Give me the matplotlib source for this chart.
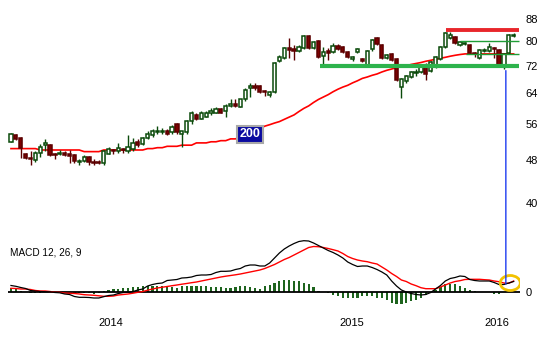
import matplotlib
matplotlib.use("Agg")
import matplotlib.pyplot as plt
from matplotlib.patches import Ellipse, ConnectionPatch
from matplotlib.ticker import NullLocator

plt.rcParams['font.family'] = ['Liberation Sans', 'DejaVu Sans']

# weekly candles
opens = [52.0, 53.4, 52.9, 49.4, 48.4, 48.0, 49.6, 51.2, 51.2, 49.2,
         49.2, 49.6, 49.2, 49.0, 47.6, 47.8, 48.6, 47.6, 47.6, 47.4,
         49.4, 50.1, 49.9, 50.3, 49.9, 50.3, 52.0, 51.4, 52.9, 53.4,
         54.1, 54.1, 54.3, 54.1, 56.0, 53.8, 54.1, 56.9, 58.2, 57.4,
         57.9, 58.7, 58.9, 59.7, 59.2, 60.7, 61.2, 60.4, 62.3, 65.3,
         66.1, 66.1, 64.5, 63.4, 64.2, 73.5, 74.4, 77.7, 77.3, 76.7,
         77.7, 81.8, 77.7, 80.0, 75.0, 76.7, 76.4, 78.3, 78.0, 76.4,
         74.1, 76.4, 74.1, 72.3, 77.3, 81.1, 78.7, 74.4, 75.7, 74.1,
         65.6, 67.3, 68.7, 69.9, 70.2, 72.0, 70.5, 71.7, 74.1, 78.0,
         81.1, 81.4, 78.7, 79.0, 78.7, 76.0, 74.4, 76.7, 76.7, 77.7,
         77.0, 72.3, 76.0, 81.8]
closes = [53.6, 52.5, 50.5, 48.4, 48.2, 49.6, 50.9, 51.6, 49.0, 49.0,
          49.6, 49.0, 48.8, 47.8, 47.8, 48.6, 47.6, 47.4, 47.4, 49.9,
          50.3, 49.9, 50.5, 50.1, 50.9, 51.6, 51.2, 52.7, 53.8, 54.3,
          54.5, 54.5, 53.8, 55.3, 54.1, 54.3, 56.7, 58.7, 57.4, 58.7,
          58.9, 59.4, 59.9, 58.9, 60.7, 61.2, 60.7, 62.3, 65.0, 65.9,
          65.3, 64.2, 64.2, 64.2, 72.9, 74.8, 77.7, 77.0, 76.8, 78.0,
          81.8, 77.7, 79.7, 74.8, 76.4, 76.0, 78.3, 77.3, 76.4, 74.8,
          74.8, 77.3, 73.5, 76.7, 80.4, 79.0, 74.4, 75.4, 73.8, 67.8,
          68.1, 69.0, 70.2, 70.2, 71.7, 69.6, 73.2, 74.8, 78.0, 82.9,
          82.1, 79.3, 79.7, 79.3, 76.0, 75.7, 77.0, 77.0, 78.0, 77.3,
          72.3, 75.7, 82.1, 82.1]
highs = [53.9, 53.6, 53.1, 49.6, 49.9, 49.9, 51.4, 52.5, 51.4, 49.6,
         50.1, 49.9, 50.1, 49.2, 48.2, 49.0, 48.8, 48.2, 48.0, 50.1,
         50.7, 50.3, 51.6, 50.5, 53.4, 52.7, 52.5, 53.1, 54.3, 54.8,
         55.5, 55.0, 54.8, 55.8, 56.2, 54.5, 57.0, 59.2, 58.7, 59.2,
         59.4, 60.0, 60.4, 60.0, 61.0, 62.5, 62.3, 62.5, 65.3, 66.8,
         67.0, 66.3, 65.0, 64.5, 73.2, 75.4, 78.0, 81.1, 78.7, 78.7,
         82.1, 82.1, 80.0, 80.4, 78.0, 77.7, 79.3, 79.0, 78.3, 76.7,
         75.1, 77.7, 74.4, 77.0, 80.7, 81.4, 79.0, 75.8, 76.0, 74.4,
         68.4, 69.3, 70.5, 71.1, 72.0, 72.9, 73.5, 75.1, 78.3, 83.2,
         83.2, 81.8, 80.0, 79.7, 79.0, 76.4, 77.3, 77.7, 79.3, 78.0,
         77.3, 76.0, 82.5, 82.9]
lows = [51.9, 52.3, 48.4, 48.2, 47.0, 47.6, 48.6, 49.9, 48.8, 48.2,
        49.0, 48.8, 47.4, 47.4, 47.0, 47.6, 47.0, 47.0, 47.2, 47.0,
        49.2, 49.4, 49.6, 49.6, 49.6, 49.9, 50.9, 51.2, 52.5, 53.1,
        53.8, 53.6, 53.4, 53.8, 53.8, 50.9, 53.8, 56.0, 57.0, 57.2,
        57.7, 58.4, 58.7, 58.7, 57.9, 60.4, 60.4, 60.2, 62.0, 63.0,
        64.8, 64.0, 63.2, 63.0, 64.0, 73.2, 74.1, 74.4, 73.8, 76.4,
        77.3, 77.3, 77.3, 74.4, 72.3, 73.8, 76.0, 77.0, 76.0, 74.4,
        73.5, 76.0, 73.2, 72.0, 76.7, 78.7, 74.1, 74.1, 73.5, 67.5,
        62.8, 66.8, 68.4, 69.0, 69.9, 67.8, 70.2, 71.4, 73.8, 77.7,
        80.7, 79.0, 78.3, 78.7, 75.7, 74.8, 74.1, 76.4, 76.4, 74.4,
        72.0, 71.1, 75.7, 81.4]

# 200-day moving average
ma200 = [50.45] * 6 + [50.15] * 9 + [49.8] * 4 + [50.15] * 9 + \
        [50.45, 50.45, 50.65, 50.65, 50.95, 50.95, 50.95, 51.2, 51.2, 51.2,
         51.7, 51.7, 51.7, 51.95, 51.95, 52.2, 52.2, 52.6, 52.6, 53.05,
         53.6, 54.05, 54.5, 55.0, 55.55, 55.9, 56.3, 56.65, 57.2, 57.75,
         58.3, 59.15, 59.95, 60.6, 61.5, 62.3, 62.95, 63.6, 64.4, 65.1,
         65.7, 66.2, 66.9, 67.5, 68.2, 68.6, 69.1, 69.5, 70.1, 70.6,
         71.0, 71.4, 71.7, 72.0, 72.4, 72.7, 73.0, 73.4, 73.7, 74.05,
         74.35, 74.65, 75.0, 75.3, 75.55] + [75.75] * 11

# MACD 12, 26, 9
macd = [6.5, 5.7, 4.5, 3.5, 1.5, 1.0, 0.5, 0.3, 0.2, -0.5,
        -0.8, -2.0, -2.5, -4.5, -5.3, -5.3, -5.5, -6.0, -6.0, -4.7,
        -3.5, -3.0, -1.5, -0.5, -0.3, 0.5, 2.0, 3.0, 6.0, 7.5,
        8.5, 9.0, 11.5, 12.0, 12.5, 14.0, 14.3, 15.0, 16.5, 17.0,
        17.0, 17.5, 19.5, 20.7, 20.7, 21.0, 22.5, 23.5, 26.0, 27.0,
        27.0, 26.0, 26.0, 29.0, 34.0, 39.0, 43.0, 46.0, 48.5, 50.5,
        51.3, 51.0, 49.0, 46.5, 44.0, 41.5, 39.5, 37.0, 34.0, 30.0,
        27.5, 25.5, 26.0, 26.0, 24.5, 22.5, 20.0, 17.0, 11.0, 6.0,
        2.0, 0.0, -1.5, -2.5, -3.0, -2.5, -0.5, 3.0, 6.5, 11.0,
        13.5, 14.5, 16.0, 15.5, 12.5, 11.5, 11.0, 11.0, 11.0, 9.5,
        7.5, 7.5, 9.0, 10.5]
signal = [3.7, 3.5, 3.0, 3.0, 2.5, 1.5, 1.0, 1.0, 0.5, -0.3,
          -0.3, -1.0, -1.3, -1.5, -2.0, -2.7, -3.0, -3.3, -3.8, -4.3,
          -4.3, -4.0, -3.0, -2.5, -2.0, -1.2, -0.3, 0.5, 1.8, 3.0,
          4.0, 4.8, 5.5, 6.3, 7.0, 7.8, 8.5, 9.3, 10.0, 11.0,
          12.0, 13.0, 14.0, 15.0, 15.8, 16.5, 17.2, 18.0, 19.0, 20.0,
          21.0, 22.0, 23.5, 25.5, 27.5, 30.0, 32.5, 34.5, 37.0, 39.5,
          42.0, 44.5, 45.5, 45.3, 44.5, 43.5, 42.3, 41.0, 38.5, 35.5,
          33.5, 32.0, 31.0, 30.3, 29.0, 28.0, 25.0, 22.0, 18.5, 15.5,
          12.0, 10.5, 8.0, 6.3, 4.3, 3.3, 3.3, 3.3, 5.0, 7.0,
          9.0, 10.5, 11.3, 12.5, 12.7, 12.7, 12.7, 12.3, 12.0, 11.0,
          10.3, 9.0, 8.7, 11.0]
hist = [4.0, 3.0, 1.0, 0.3, -1.0, -1.0, -1.0, -0.3, -0.3, -0.3,
        -0.3, -0.3, -0.3, -0.5, -1.0, -1.3, -1.3, -1.7, -1.3, 1.3,
        2.3, 3.0, 3.3, 4.0, 4.0, 4.7, 4.7, 6.3, 6.3, 6.3,
        5.7, 5.7, 5.7, 4.7, 3.7, 5.7, 5.7, 5.7, 5.7, 5.7,
        5.7, 5.0, 5.0, 4.7, 4.0, 3.7, 4.7, 5.7, 5.7, 5.0,
        4.0, 3.3, 5.7, 7.0, 9.0, 11.3, 12.3, 12.3, 11.3, 11.3,
        9.0, 7.7, 5.0, 1.3, 0.0, -1.0, -2.7, -3.7, -6.0, -6.0,
        -6.0, -6.0, -4.3, -3.7, -4.3, -6.0, -6.0, -7.7, -11.0, -11.7,
        -11.7, -11.0, -9.3, -7.7, -6.0, -2.7, 0.0, 2.3, 5.0, 7.7,
        7.7, 7.7, 6.3, 4.0, 2.3, 0.7, 0.0, 0.0, 0.0, -1.5,
        -1.5, 0.0, 0.0, 0.0]

price_ticks = [40, 48, 56, 64, 72, 80, 88]
years = ['2014', '2015', '2016']
year_pos = [20.5, 69.9, 99.6]

# drawn levels: (price, start, end)
resistance = (83.8, 89.1, 104.1)
support = (71.9, 63.3, 104.1)
channel = [(80.0, 92.0, 104.1), (75.7, 93.2, 104.1)]
marker_week = 101.4
marker_top = 70.5
marker_macd = 8.0

n = len(closes)
idx = list(range(n))
UP_EDGE, DOWN_FACE, DOWN_EDGE = '#0a4a0a', '#7d0000', '#5c0000'

fig = plt.figure(figsize=(5.4, 3.6), dpi=100)
ax = fig.add_axes([0, 120 / 360, 520 / 540, 240 / 360])
axm = fig.add_axes([0, 50 / 360, 520 / 540, 110 / 360])
for a in (ax, axm):
    a.patch.set_visible(False)
    for s in a.spines.values():
        s.set_visible(False)
    a.set_xlim(-2.25, 104.3)

# price panel
ax.set_yscale('log')
ax.set_ylim(34.08, 95.47)
ax.plot(idx, ma200, color='#ff0000', lw=1.2, zorder=2)

up = [c >= o for o, c in zip(opens, closes)]
edges = [UP_EDGE if u else DOWN_EDGE for u in up]
faces = ['white' if u else DOWN_FACE for u in up]
ax.vlines(idx, lows, highs, colors=edges, lw=1, zorder=3)
bottoms = [min(o, c) for o, c in zip(opens, closes)]
heights = [max(abs(c - o), 0.15) for o, c in zip(opens, closes)]
ax.bar(idx, heights, bottom=bottoms, width=0.66, color=faces,
       edgecolor=edges, linewidth=1.1, zorder=4)

ax.hlines(resistance[0], resistance[1], resistance[2], color='#e8262b', lw=2.8, zorder=5)
ax.hlines(support[0], support[1], support[2], color='#2db34c', lw=3, zorder=5)
for lvl, x0, x1 in channel:
    ax.hlines(lvl, x0, x1, color='#1f9e36', lw=1, zorder=5)

ax.text(49, 53.6, '200', color='white', fontweight='bold', fontsize=9,
        ha='center', va='center', zorder=6,
        bbox=dict(boxstyle='square,pad=0.22', fc='#0a0aa0', ec='#a8a8a8', lw=1.5))

ax.set_yticks(price_ticks)
ax.set_yticklabels([str(t) for t in price_ticks])
ax.yaxis.set_minor_locator(NullLocator())
ax.tick_params(axis='y', which='both', length=0, pad=4, labelsize=8,
               labelright=True, labelleft=False)
ax.set_xticks([])

# MACD panel
axm.set_ylim(-18, 92)
axm.bar(idx, hist, width=0.45, color='#1e641e', zorder=2)
axm.hlines(0, -0.6, 104.3, color='black', lw=1.3, zorder=3)
axm.plot(idx, signal, color='#ff0000', lw=1, zorder=4)
axm.plot(idx, macd, color='black', lw=0.9, zorder=5)
axm.add_patch(Ellipse((102.3, 9), width=4.1, height=15, fill=False,
                      ec='#f2c200', lw=2, zorder=6))
axm.text(0.019, 0.527, 'MACD 12, 26, 9', transform=axm.transAxes,
         fontsize=7.2, va='center', ha='left')
axm.set_yticks([0])
axm.set_yticklabels(['0'])
axm.tick_params(axis='y', length=0, pad=4, labelsize=8,
                labelright=True, labelleft=False)
axm.set_xticks(year_pos)
axm.set_xticklabels(years)
axm.tick_params(axis='x', length=0, pad=6, labelsize=8)

con = ConnectionPatch(xyA=(marker_week, marker_top), coordsA='data', axesA=ax,
                      xyB=(marker_week, marker_macd), coordsB='data', axesB=axm,
                      color='#1d3cf0', lw=1, zorder=7)
fig.add_artist(con)

fig.savefig('out.png', dpi=100)
